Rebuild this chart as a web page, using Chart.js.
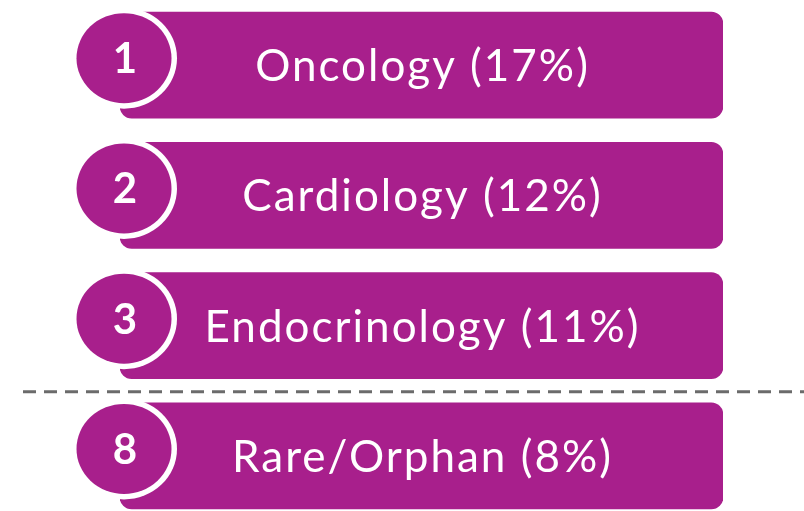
<!DOCTYPE html>
<html>
<head>
<meta charset="utf-8">
<script src="https://cdn.jsdelivr.net/npm/chart.js@4"></script>
<style>
  html, body { margin: 0; padding: 0; background: #fff; }
  #wrap { width: 804px; height: 511px; position: relative; }
</style>
</head>
<body>
<div id="wrap"><canvas id="rankChart"></canvas></div>
<script>
// Data
const ranks = [1, 2, 3, 8];
const areas = ['Oncology', 'Cardiology', 'Endocrinology', 'Rare/Orphan'];
const shares = [17, 12, 11, 8];

const purple = '#a81f8c';

// circles with rank numbers, centred labels, dashed separator where ranks jump
const badgePlugin = {
  id: 'badges',
  afterDatasetsDraw(chart) {
    const ctx = chart.ctx;
    const bars = chart.getDatasetMeta(0).data;
    ctx.save();
    bars.forEach((bar, i) => {
      const top = bar.y - bar.height / 2;
      const cx = bar.base + 4;
      const cy = top + 46;

      // white ring + purple disc
      ctx.fillStyle = '#ffffff';
      ctx.beginPath();
      ctx.ellipse(cx, cy, 53, 50.5, 0, 0, Math.PI * 2);
      ctx.fill();
      ctx.fillStyle = purple;
      ctx.beginPath();
      ctx.ellipse(cx, cy, 47.5, 45, 0, 0, Math.PI * 2);
      ctx.fill();

      ctx.fillStyle = '#ffffff';
      ctx.textAlign = 'center';
      ctx.textBaseline = 'alphabetic';
      ctx.letterSpacing = '0px';
      ctx.font = 'bold 42px Lato';
      ctx.fillText(String(ranks[i]), cx + 1, cy + 15);

      ctx.font = '44px Lato';
      ctx.letterSpacing = '2px';
      ctx.fillText(`${areas[i]} (${shares[i]}%)`, (bar.base + bar.x) / 2 + 1, bar.y + 16);
    });

    // dashed line between non-consecutive ranks
    const yScale = chart.scales.y;
    for (let i = 1; i < ranks.length; i++) {
      if (ranks[i] - ranks[i - 1] > 1) {
        const y = (yScale.getPixelForValue(i - 1) + yScale.getPixelForValue(i)) / 2 + 1;
        ctx.strokeStyle = '#6b6b6b';
        ctx.lineWidth = 3;
        ctx.setLineDash([13, 8]);
        ctx.beginPath();
        ctx.moveTo(23, y);
        ctx.lineTo(chart.width, y);
        ctx.stroke();
      }
    }
    ctx.restore();
  }
};

new Chart(document.getElementById('rankChart'), {
  type: 'bar',
  data: {
    datasets: [{
      data: ranks.map((r, i) => ({ x: [0, 100], y: i })),
      backgroundColor: purple,
      borderRadius: 12,
      borderSkipped: false,
      barThickness: 106
    }]
  },
  options: {
    indexAxis: 'y',
    responsive: true,
    maintainAspectRatio: false,
    animation: false,
    layout: { padding: { left: 120, right: 81, top: 0, bottom: 0 } },
    scales: {
      x: { type: 'linear', min: 0, max: 100, display: false, offset: false },
      y: { type: 'linear', reverse: true, min: -0.5, max: 3.423, display: false, offset: false }
    },
    plugins: {
      legend: { display: false },
      tooltip: { enabled: false }
    }
  },
  plugins: [badgePlugin]
});
</script>
</body>
</html>
